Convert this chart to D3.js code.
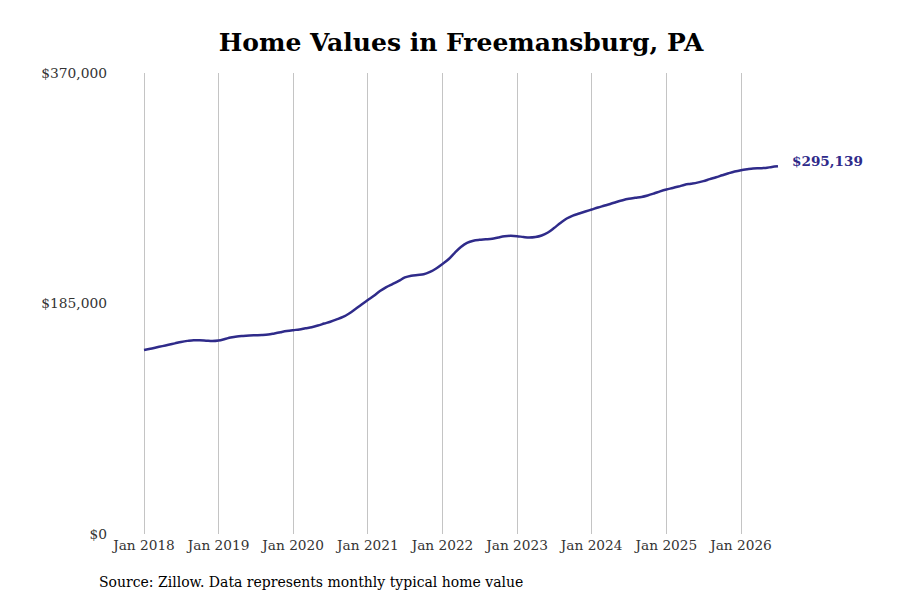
<!DOCTYPE html>
<html>
<head>
<meta charset="utf-8">
<script src="https://cdn.jsdelivr.net/npm/d3@7"></script>
<style>
  body { margin: 0; background: #fff; }
  text { font-family: "DejaVu Serif", serif; }
</style>
</head>
<body>
<div id="chart"></div>
<script>
// monthly typical home value, Jan 2018 .. Jul 2026
var startMonth = "2018-01";
var homeValues = [
  147700, 148700, 149700, 150800, 151900, 153000, 154100, 155000, 155600, 155500, 155200, 154900,
  155300, 156500, 157700, 158600, 159000, 159300, 159500, 159700, 160100, 161000, 162000, 162900,
  163600, 164200, 165100, 166000, 167300, 168900, 170400, 172200, 174200, 177000, 180600, 184200,
  187800, 191400, 195000, 198200, 200600, 203100, 205900, 207300, 207900, 208400, 210300, 213100,
  216700, 220700, 225500, 230300, 233600, 235400, 236100, 236500, 237000, 238000, 238900, 239300,
  239000, 238400, 238000, 238400, 239600, 242000, 245600, 249600, 253200, 255600, 257200, 258800,
  260400, 262000, 263400, 264900, 266500, 267900, 269000, 269800, 270500, 271700, 273300, 275000,
  276500, 277700, 278900, 280300, 281100, 282000, 283200, 284800, 286300, 287900, 289500, 290900,
  292000, 292800, 293400, 293600, 293800, 294600, 295139
];
var xTickYears = [2018, 2019, 2020, 2021, 2022, 2023, 2024, 2025, 2026];
var yTickValues = [0, 185000, 370000];
var chartTitle = "Home Values in Freemansburg, PA";
var sourceNote = "Source: Zillow. Data represents monthly typical home value";

var W = 900, H = 600;
var lineColor = "#2f2b8a";

var parseMonth = d3.timeParse("%Y-%m");
var t0 = parseMonth(startMonth);
var data = homeValues.map(function(v, i) { return { date: d3.timeMonth.offset(t0, i), value: v }; });

var xScale = d3.scaleTime()
    .domain([new Date(2018, 0, 1), new Date(2026, 0, 1)])
    .range([144, 741]);
var yScale = d3.scaleLinear()
    .domain([0, 370000])
    .range([534, 73]);

var svg = d3.select("#chart").append("svg")
    .attr("width", W)
    .attr("height", H);

svg.append("text")
    .attr("x", 461)
    .attr("y", 51)
    .attr("text-anchor", "middle")
    .style("font-size", "25px")
    .style("font-weight", "bold")
    .attr("fill", "#000")
    .text(chartTitle);

// vertical grid
svg.append("g").selectAll("line")
    .data(xTickYears)
  .enter().append("line")
    .attr("x1", function(d) { return xScale(new Date(d, 0, 1)); })
    .attr("x2", function(d) { return xScale(new Date(d, 0, 1)); })
    .attr("y1", yScale(370000))
    .attr("y2", yScale(0))
    .attr("stroke", "#c4c4c4")
    .attr("stroke-width", 1)
    .attr("shape-rendering", "crispEdges");

// x labels
svg.append("g").selectAll("text")
    .data(xTickYears)
  .enter().append("text")
    .attr("x", function(d) { return xScale(new Date(d, 0, 1)); })
    .attr("y", 550)
    .attr("text-anchor", "middle")
    .style("font-size", "13.7px")
    .attr("fill", "#333")
    .text(function(d) { return "Jan " + d; });

// y labels
var fmt = d3.format("$,");
svg.append("g").selectAll("text")
    .data(yTickValues)
  .enter().append("text")
    .attr("x", 107)
    .attr("y", function(d) { return yScale(d); })
    .attr("dy", "0.35em")
    .attr("text-anchor", "end")
    .style("font-size", "13.8px")
    .attr("fill", "#333")
    .text(function(d) { return fmt(d); });

var line = d3.line()
    .x(function(d) { return xScale(d.date); })
    .y(function(d) { return yScale(d.value); })
    .curve(d3.curveMonotoneX);

svg.append("path")
    .datum(data)
    .attr("d", line)
    .attr("fill", "none")
    .attr("stroke", lineColor)
    .attr("stroke-width", 2.5)
    .attr("stroke-linejoin", "round");

var last = data[data.length - 1];
svg.append("text")
    .attr("x", xScale(last.date) + 14)
    .attr("y", yScale(last.value) - 5)
    .attr("dy", "0.35em")
    .style("font-size", "13.6px")
    .style("font-weight", "bold")
    .attr("fill", lineColor)
    .text(fmt(last.value));

svg.append("text")
    .attr("x", 99)
    .attr("y", 587)
    .style("font-size", "14px")
    .attr("fill", "#000")
    .text(sourceNote);
</script>
</body>
</html>
